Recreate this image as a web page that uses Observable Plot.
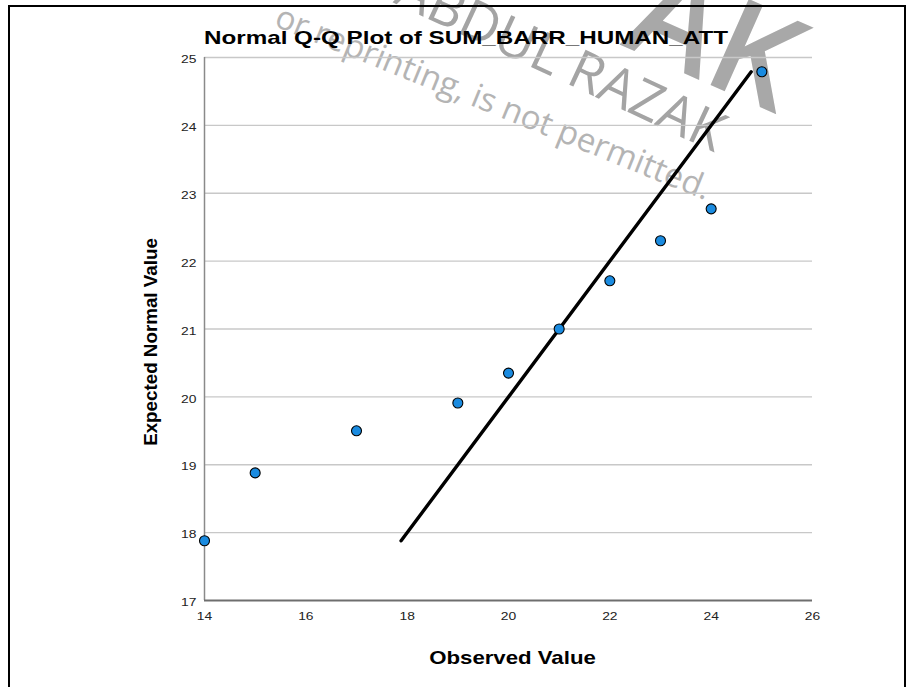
<!DOCTYPE html>
<html><head><meta charset="utf-8">
<script src="https://cdn.jsdelivr.net/npm/d3@7"></script>
<script src="https://cdn.jsdelivr.net/npm/@observablehq/plot@0.6"></script>
<style>
body{margin:0;background:#fff;}
#wrap{position:relative;width:914px;height:687px;overflow:hidden;background:#fff;}
#frame{position:absolute;left:8px;top:5px;width:898px;height:720px;border:2px solid #000;box-sizing:border-box;}
#title{position:absolute;left:204px;top:28px;font:bold 19px "Liberation Sans",Arial,sans-serif;line-height:19px;white-space:nowrap;transform-origin:0 0;color:#000;}
#chart{position:absolute;left:0;top:48px;}
.wm{position:absolute;width:0;height:0;transform-origin:0 0;pointer-events:none;}
.wm span{position:absolute;right:0;bottom:0;white-space:nowrap;line-height:1;font-family:"Open Sans",sans-serif;}
</style></head>
<body>
<div id="wrap">
  <div class="wm" style="left:704px;top:204px;transform:rotate(22deg)"><span style="font-size:33px;color:#b4b4b4;">or reprinting, is not permitted.</span></div>
  <div class="wm" style="left:712px;top:158px;transform:rotate(25deg)"><span style="font-size:54px;color:#a4a4a4;">ABDUL RAZAK</span></div>
  <div class="wm" style="left:770px;top:128px;transform:rotate(24deg)"><span style="font-size:132px;font-weight:600;color:#a8a8a8;">AK</span></div>
  <div id="frame"></div>
  <div id="title"></div>
  <div id="chart"></div>
</div>
<script>
const titleText = "Normal Q-Q Plot of SUM_BARR_HUMAN_ATT";
const xLabel = "Observed Value";
const yLabel = "Expected Normal Value";
const observed = [14, 15, 17, 19, 20, 21, 22, 23, 24, 25];
const expected = [17.88, 18.88, 19.50, 19.91, 20.35, 21.00, 21.71, 22.30, 22.77, 24.79];
const refLineX = [17.88, 24.79];
const refLineY = [17.88, 24.79];
const xTicks = [14, 16, 18, 20, 22, 24, 26];
const yTicks = [17, 18, 19, 20, 21, 22, 23, 24, 25];

const points = observed.map((x, i) => ({x, y: expected[i]}));
const refLine = refLineX.map((x, i) => ({x, y: refLineY[i]}));

const title = document.getElementById("title");
title.textContent = titleText;

const chart = Plot.plot({
  width: 914,
  height: 639,
  marginLeft: 204,
  marginRight: 102,
  marginTop: 9,
  marginBottom: 87,
  style: {fontFamily: "Liberation Sans, Arial, sans-serif", background: "transparent", overflow: "visible"},
  x: {domain: [14, 26]},
  y: {domain: [17, 25]},
  marks: [
    Plot.gridY(yTicks.slice(1), {stroke: "#c8c8c8", strokeOpacity: 1, strokeWidth: 1.3}),
    Plot.ruleX([14], {stroke: "#8a8a8a", strokeWidth: 1.5}),
    Plot.ruleY([17], {stroke: "#6e6e6e", strokeWidth: 2}),
    Plot.axisY(yTicks, {tickSize: 0, tickPadding: 8, fontSize: 11.5, dy: 2, fill: "#222", label: null, tickFormat: d3.format("d")}),
    Plot.axisX(xTicks, {tickSize: 0, tickPadding: 11, fontSize: 11.5, fill: "#222", label: null, tickFormat: d3.format("d")}),
    Plot.line(refLine, {x: "x", y: "y", stroke: "#000", strokeWidth: 3.4}),
    Plot.dot(points, {x: "x", y: "y", r: 5, fill: "#1a8be0", stroke: "#000", strokeWidth: 1.1}),
    Plot.text([xLabel], {frameAnchor: "bottom", text: d => d, textAnchor: "middle", lineAnchor: "middle", dy: 58, dx: 4, fontSize: 18.5, fontWeight: "bold", fill: "#000", className: "hlabel"}),
    Plot.text([yLabel], {frameAnchor: "left", text: d => d, textAnchor: "middle", lineAnchor: "middle", rotate: -90, dx: -54, dy: 13, fontSize: 18.8, fontWeight: "bold", fill: "#000"})
  ]
});
document.getElementById("chart").appendChild(chart);

// horizontal stretch of horizontal text, as in the reference raster
const stretch = 1.2;
chart.querySelectorAll("g[aria-label='y-axis tick label'] text, g[aria-label='x-axis tick label'] text, .hlabel text").forEach(t => {
  const L = t.getComputedTextLength();
  t.setAttribute("textLength", (L * stretch).toFixed(1));
  t.setAttribute("lengthAdjust", "spacingAndGlyphs");
});
const tw = title.getBoundingClientRect().width;
title.style.transform = `scaleX(${(524 / tw).toFixed(3)})`;
</script>
</body></html>
